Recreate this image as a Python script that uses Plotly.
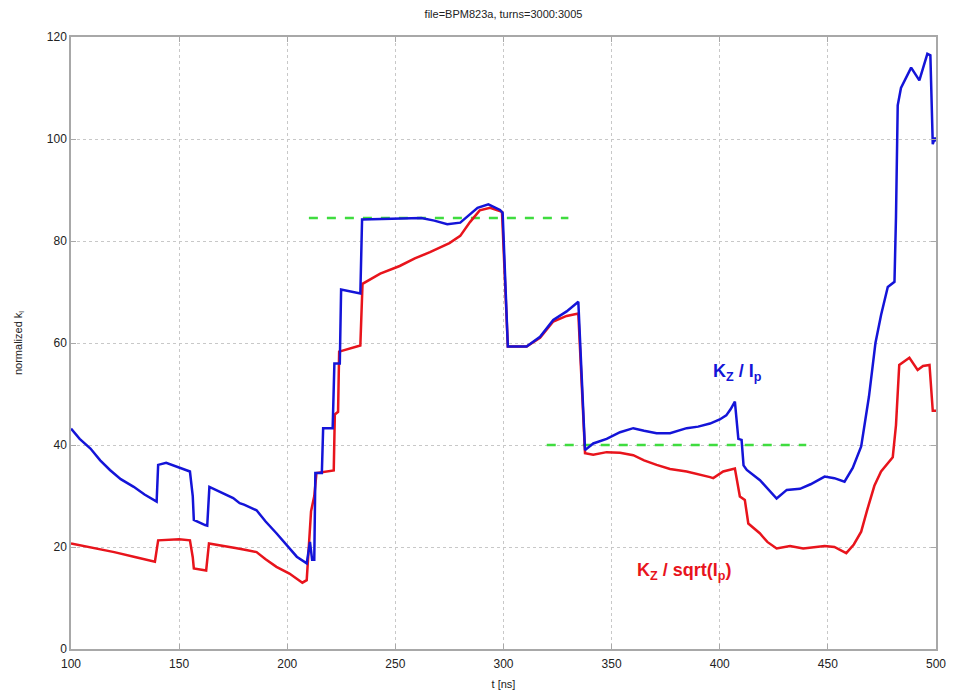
import plotly.graph_objects as go

# ---- data ----
t_blue = [100, 104, 109, 113.5, 118, 123, 129, 134, 139.6, 140.3, 144, 149, 155, 156.3, 156.8, 162, 163, 164, 170.4, 175, 178, 180, 185.8, 190, 195, 200, 204.4, 209,
          210.5, 211.5, 212.5, 213, 216, 216.6, 221, 221.8, 224.3, 224.9, 229, 233.8, 234.6,
          250, 262, 268, 274, 280, 288, 293, 298.4, 299.6, 302, 310.7, 316.9, 323, 329.2, 334.6, 337.7,
          341.5, 347.7, 353.9, 360, 365, 370.8, 377, 384.7, 390, 395.5, 400, 403, 405, 407, 408.6, 410.1, 411, 412.5, 418.6, 422, 426.3, 431, 437.1, 442, 448.5, 453, 457.7, 461.5, 465.4, 469, 472, 474.6, 477.7, 480.8, 481.5, 482.3, 483.8, 488.5, 492.3, 496, 497.4, 498.5, 499.5, 500]
v_blue = [43.2, 41.2, 39.3, 37.0, 35.1, 33.3, 31.8, 30.3, 28.9, 36.1, 36.5, 35.7, 34.8, 30.0, 25.3, 24.3, 24.2, 31.8, 30.6, 29.6, 28.6, 28.3, 27.2, 25.0, 22.7, 20.3, 18.1, 16.8,
          21.0, 17.5, 17.5, 34.5, 34.5, 43.3, 43.3, 56.0, 56.0, 70.5, 70.2, 69.7, 84.2,
          84.3, 84.5, 84.0, 83.3, 83.6, 86.5, 87.2, 86.1, 85.5, 59.3, 59.3, 61.2, 64.5, 66.2, 68.1, 39.0,
          40.3, 41.2, 42.5, 43.3, 42.8, 42.3, 42.3, 43.3, 43.6, 44.2, 45.0, 45.8, 47.0, 48.5, 41.2, 41.0, 36.0, 35.1, 33.1, 31.5, 29.5, 31.2, 31.4, 32.3, 33.8, 33.5, 32.8, 35.5, 39.7, 49.5, 60.0, 65.5, 71.0, 72.0, 84.7, 106.6, 110.0, 114.0, 111.5, 116.7, 116.4, 99.0, 100.3, 99.5]

t_red = [100, 109, 120, 130, 138.8, 140.3, 150, 155, 156.3, 156.8, 162.5, 163.8, 170, 176, 181, 185.8, 190, 195, 201, 207, 209,
         210, 211, 212.5, 213.5, 221.5, 222, 223.5, 224, 233.8, 234.8,
         243, 252, 259, 266, 275, 280, 284.5, 289, 293.8, 299.3, 302, 310.7, 316.9, 323, 329.2, 334.6, 337.7,
         341.5, 347.7, 353.9, 360, 365, 370.8, 377, 384.7, 389, 395.5, 397, 401.6, 407, 408.6, 409.3, 411.6, 413.2, 418.5, 422, 426.3, 432.5, 438.6, 448.5, 453, 458.5, 462, 465.4, 468, 471.5, 474.6, 480, 481.5, 483, 487.7, 491.5, 494, 497, 498.5, 500]
v_red = [20.7, 20.0, 19.0, 18.0, 17.1, 21.3, 21.5, 21.3, 18.0, 15.8, 15.4, 20.7, 20.3, 19.8, 19.4, 19.0, 17.6, 16.1, 14.8, 13.0, 13.5,
         20.0, 27.0, 30.0, 34.5, 35.0, 46.0, 46.5, 58.3, 59.5, 71.6,
         73.6, 75.1, 76.6, 77.8, 79.6, 81.0, 83.7, 86.0, 86.5, 85.7, 59.3, 59.3, 61.0, 64.2, 65.3, 65.8, 38.4,
         38.1, 38.6, 38.5, 38.0, 37.0, 36.1, 35.3, 34.8, 34.4, 33.7, 33.5, 34.8, 35.4, 31.0, 29.9, 29.2, 24.6, 22.7, 21.0, 19.7, 20.2, 19.7, 20.2, 20.0, 18.8, 20.5, 23.0, 27.0, 32.0, 34.8, 37.6, 43.9, 55.7, 57.1, 54.7, 55.5, 55.7, 46.7, 46.7]

green_hi_t = [210, 330]
green_hi_v = [84.5, 84.5]
green_lo_t = [320, 440]
green_lo_v = [40, 40]

x_ticks = [100, 150, 200, 250, 300, 350, 400, 450, 500]
y_ticks = [0, 20, 40, 60, 80, 100, 120]

FONT = "Liberation Sans, Arial"

fig = go.Figure()
fig.add_trace(go.Scatter(x=green_hi_t, y=green_hi_v, mode="lines",
                         line=dict(color="#3fdc3f", width=2.5, dash="dash"), showlegend=False))
fig.add_trace(go.Scatter(x=green_lo_t, y=green_lo_v, mode="lines",
                         line=dict(color="#3fdc3f", width=2.5, dash="dash"), showlegend=False))
fig.add_trace(go.Scatter(x=t_red, y=v_red, mode="lines",
                         line=dict(color="#e8141c", width=2.5), showlegend=False))
fig.add_trace(go.Scatter(x=t_blue, y=v_blue, mode="lines",
                         line=dict(color="#1414d8", width=2.5), showlegend=False))

fig.add_annotation(x=408, y=54.3, xref="x", yref="y", showarrow=False,
                   text="<b>K<sub>Z</sub> / I<sub>p</sub></b>",
                   font=dict(family=FONT, size=18, color="#1414d8"))
fig.add_annotation(x=383.5, y=15.1, xref="x", yref="y", showarrow=False,
                   text="<b>K<sub>Z</sub> / sqrt(I<sub>p</sub>)</b>",
                   font=dict(family=FONT, size=18, color="#e8141c"))

axis_common = dict(showline=True, linecolor="#a8a8a8", linewidth=1.5, mirror="ticks",
                   ticks="inside", ticklen=5, tickcolor="#a8a8a8",
                   showgrid=True, gridcolor="#c8c8c8", griddash="dot", gridwidth=1,
                   zeroline=False, automargin=False,
                   tickfont=dict(family=FONT, size=12, color="#222"))

fig.update_xaxes(range=[100, 500], tickvals=x_ticks, ticktext=[str(v) for v in x_ticks],
                 ticklabelstandoff=3,
                 title=dict(text="t [ns]", font=dict(family=FONT, size=11, color="#222"), standoff=10),
                 **axis_common)
fig.update_yaxes(range=[0, 120], tickvals=y_ticks, ticktext=[str(v) for v in y_ticks],
                 title=dict(text="normalized k<sub>l</sub>", font=dict(family=FONT, size=11, color="#222"), standoff=22),
                 **axis_common)

fig.update_layout(
    width=954, height=696,
    margin=dict(l=71, r=18, t=37, b=47),
    paper_bgcolor="white", plot_bgcolor="white",
    title=dict(text="file=BPM823a, turns=3000:3005", x=0.5, xref="paper", y=0.985, yanchor="top",
               font=dict(family=FONT, size=11, color="#222")),
)

fig.write_html("out.html")
